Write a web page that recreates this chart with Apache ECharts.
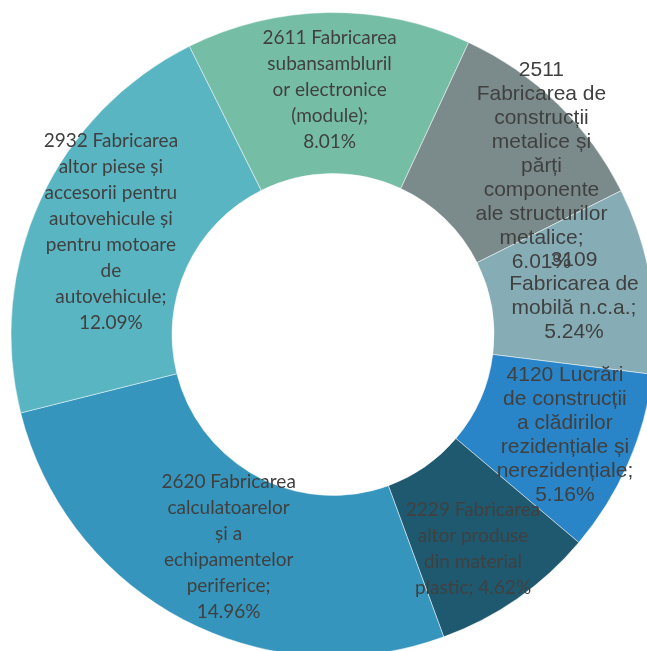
<!DOCTYPE html>
<html>
<head>
<meta charset="utf-8">
<script src="https://cdn.jsdelivr.net/npm/echarts@6/dist/echarts.min.js"></script>
<style>
  html, body { margin: 0; padding: 0; background: #fff; }
  #chart { width: 647px; height: 651px; }
</style>
</head>
<body>
<div id="chart"></div>
<script>
// categories in clockwise order, starting at the top
const codes = ["2611", "2511", "3109", "4120", "2229", "2620", "2932"];
const names = [
    "Fabricarea subansamblurilor electronice (module)",
    "Fabricarea de construcții metalice și părți componente ale structurilor metalice",
    "Fabricarea de mobilă n.c.a.",
    "Lucrări de construcții a clădirilor rezidențiale și nerezidențiale",
    "Fabricarea altor produse din material plastic",
    "Fabricarea calculatoarelor și a echipamentelor periferice",
    "Fabricarea altor piese și accesorii pentru autovehicule și pentru motoare de autovehicule"
];
const shares = [8.01, 6.01, 5.24, 5.16, 4.62, 14.96, 12.09];
// label text as wrapped in the picture
const labelTexts = [
    "2611 Fabricarea\nsubansambluril\nor electronice\n(module);\n8.01%",
    "2511\nFabricarea de\nconstrucții\nmetalice și\npărți\ncomponente\nale structurilor\nmetalice;\n6.01%",
    "3109\nFabricarea de\nmobilă n.c.a.;\n5.24%",
    "4120 Lucrări\nde construcții\na clădirilor\nrezidențiale și\nnerezidențiale;\n5.16%",
    "2229 Fabricarea\naltor produse\ndin material\nplastic; 4.62%",
    "2620 Fabricarea\ncalculatoarelor\nși a\nechipamentelor\nperiferice;\n14.96%",
    "2932 Fabricarea\naltor piese și\naccesorii pentru\nautovehicule și\npentru motoare\nde\nautovehicule;\n12.09%"
];
const colors = ["#76bda6", "#7b8b8b", "#86adb6", "#2985c7", "#1f596f", "#3595bc", "#59b5c1"];

const calibriLike = { fontFamily: "Lato", fontSize: 19, lineHeight: 26 };
const arialLike = { fontFamily: "Liberation Sans", fontSize: 21, lineHeight: 24 };
const labelStyle = [calibriLike, arialLike, arialLike, arialLike, calibriLike, calibriLike, calibriLike];
const labelShift = [[0, 0], [38, 7], [0, 3], [8, 3], [0, 14], [10, -4], [0, 0]];

const chart = echarts.init(document.getElementById("chart"));
chart.setOption({
    animation: false,
    backgroundColor: "#fff",
    series: [{
        type: "pie",
        center: [333, 334.5],
        radius: [161, 322],
        startAngle: 116.5,
        clockwise: true,
        avoidLabelOverlap: false,
        labelLayout: { hideOverlap: false },
        itemStyle: { borderColor: "rgba(255,255,255,0.6)", borderWidth: 0.8 },
        label: {
            show: true,
            position: "inside",
            color: "#404040",
            align: "center",
            formatter: (p) => labelTexts[p.dataIndex]
        },
        labelLine: { show: false },
        emphasis: { disabled: true },
        data: codes.map((c, i) => ({
            name: c + " " + names[i],
            value: shares[i],
            itemStyle: { color: colors[i] },
            label: Object.assign({ offset: labelShift[i] }, labelStyle[i])
        }))
    }]
});
</script>
</body>
</html>
